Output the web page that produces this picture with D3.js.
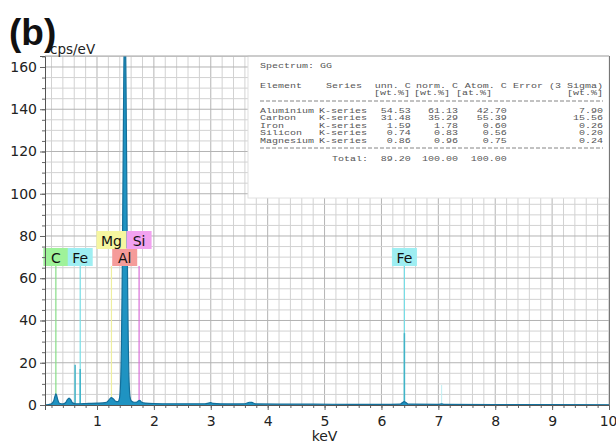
<!DOCTYPE html>
<html><head><meta charset="utf-8">
<script src="https://cdn.jsdelivr.net/npm/d3@7"></script>
<style>body{margin:0;background:#fff}svg{display:block}</style></head>
<body>
<svg id="c" width="616" height="443"></svg>
<script>
// ---------- data ----------
const xTickLabels = [1,2,3,4,5,6,7,8,9,10];
const yTickLabels = [0,20,40,60,80,100,120,140,160];
// EDS spectrum [keV, cps/eV]
const spectrum = [
 [0.086,0],[0.15,0.2],[0.20,0.6],[0.24,2.0],[0.26,4.0],[0.277,5.3],[0.29,4.6],[0.31,2.5],[0.34,0.8],
 [0.40,0.5],[0.45,1.2],[0.48,2.6],[0.51,3.3],[0.54,2.4],[0.57,1.0],[0.62,0.6],[0.70,0.6],[0.80,0.7],
 [0.90,0.8],[1.00,0.9],[1.10,1.0],[1.17,1.3],[1.21,2.4],[1.25,3.5],[1.29,2.8],[1.33,1.7],[1.37,1.6],
 [1.39,2.6],[1.40,4.0],[1.41,7.5],[1.42,15],[1.43,29],[1.44,52],[1.45,82],[1.46,118],[1.47,152],
 [1.48,178],[1.487,190],[1.495,184],[1.50,178],[1.51,152],[1.52,118],[1.53,82],[1.54,52],[1.55,29],
 [1.56,15],[1.57,7.5],[1.58,4.0],[1.60,2.0],[1.65,1.3],[1.70,1.4],[1.73,2.0],[1.75,2.2],[1.78,1.4],
 [1.85,0.9],[2.0,0.7],[2.3,0.6],[2.6,0.6],[2.9,0.6],[2.96,0.9],[3.0,1.1],[3.04,0.8],[3.3,0.5],
 [3.6,0.6],[3.68,1.3],[3.72,1.2],[3.8,0.5],[4.2,0.4],[4.8,0.4],[5.5,0.3],[6.0,0.3],[6.33,0.4],
 [6.37,1.2],[6.40,1.6],[6.43,1.2],[6.47,0.4],[7.0,0.3],[7.06,0.5],[7.1,0.3],[8.0,0.2],[9.0,0.2],[10,0.1]
];
// element line markers (label, energy keV, weight % for label priority)
const markerEls = ["Al","C","Fe","Si","Mg","Fe"];
const markerKeV = [1.487,0.277,0.705,1.740,1.254,6.404];
const markerWt  = [61.13,35.29,1.78,0.83,0.96,1.78];
// minor spectral lines (Fe Ll, Fe La, Fe Ka, Fe Kb) with heights
const lineKeV = [0.615,0.705,6.404,7.058];
const lineCps = [19,17,34,9.5];

// table
const tableTitle = "Spectrum: GG";
const tableHeaders = ["Element","Series","unn. C","norm. C","Atom. C","Error (3 Sigma)"];
const tableUnits = ["[wt.%]","[wt.%]","[at.%]","[wt.%]"];
const tElements = ["Aluminium","Carbon","Iron","Silicon","Magnesium"];
const tSeries = ["K-series","K-series","K-series","K-series","K-series"];
const unnC  = [54.53,31.48,1.59,0.74,0.86];
const normC = [61.13,35.29,1.78,0.83,0.96];
const atomC = [42.70,55.39,0.60,0.56,0.75];
const errC  = [7.90,15.56,0.26,0.20,0.24];
const totalLabel = "Total:";
const totals = [89.20,100.00,100.00];

// ---------- styles ----------
const elColor = {C:"#9ff29a", Fe:"#9eeef2", Mg:"#f6f6a0", Si:"#f2a2f0", Al:"#f59c9a"};
const elLine  = {C:"#88dd88", Fe:"#77dde6", Mg:"#eeeea0", Si:"#d870d8", Al:"#f08a88"};

const svg = d3.select("#c");
const L=45, R=609, T=56, B=405;
const x = d3.scaleLinear().domain([0.086,10]).range([L,R]);
const y = d3.scaleLinear().domain([0,165.2]).range([B,T]);

svg.append("rect").attr("width",616).attr("height",443).attr("fill","#fff");

// grid
const g = svg.append("g");
g.selectAll("line.vx").data(x.ticks(50)).join("line")
 .attr("x1",d=>x(d)).attr("x2",d=>x(d)).attr("y1",T).attr("y2",B)
 .attr("stroke",d=>Math.abs(d-Math.round(d))<1e-6?"#b4b4b4":"#d2d2d2").attr("stroke-width",1);
g.selectAll("line.hy").data(y.ticks(33)).join("line")
 .attr("y1",d=>y(d)).attr("y2",d=>y(d)).attr("x1",L).attr("x2",R)
 .attr("stroke",d=>d%20===0?"#b4b4b4":"#d2d2d2").attr("stroke-width",1);

// table box
svg.append("rect").attr("x",248).attr("y",T).attr("width",R-248).attr("height",142)
 .attr("fill","#fff").attr("stroke","#e0e0e0");

// clip
svg.append("clipPath").attr("id","pc").append("rect").attr("x",L).attr("y",T).attr("width",R-L).attr("height",B-T);
const plot = svg.append("g").attr("clip-path","url(#pc)");

// label placement (priority by wt%)
const order = d3.range(markerEls.length).sort((a,b)=>markerWt[b]-markerWt[a]);
const rowTop = [248,231];
const boxH = 18;
const placed = [];
const labels = [];
const measure = svg.append("text").attr("font-family","DejaVu Sans").attr("font-size",14);
order.forEach(i=>{
  measure.text(markerEls[i]);
  const w = Math.max(25, measure.node().getComputedTextLength()+9);
  const cx = x(markerKeV[i]);
  let row=0;
  while(placed.some(p=>p.row===row && !(cx+w/2<=p.x0+2 || cx-w/2>=p.x1-2))) row++;
  placed.push({row, x0:cx-w/2, x1:cx+w/2});
  labels.push({i, cx, w, row});
});
measure.remove();

// marker lines
plot.selectAll("line.mk").data(labels).join("line")
 .attr("x1",d=>d.cx).attr("x2",d=>d.cx).attr("y1",rowTop[0]+boxH).attr("y2",B)
 .attr("stroke",d=>elLine[markerEls[d.i]]).attr("stroke-width",1.2);
// spectral sub-lines
plot.selectAll("line.sl").data(lineKeV).join("line")
 .attr("x1",d=>x(d)).attr("x2",d=>x(d)).attr("y1",(d,i)=>y(lineCps[i])).attr("y2",B)
 .attr("stroke",(d,i)=>i===3?"#bfeef2":"#3fb4c8").attr("stroke-width",(d,i)=>i===3?1:1.5);

// spectrum
const area = d3.area().x(d=>x(d[0])).y0(y(0)).y1(d=>y(d[1])).curve(d3.curveMonotoneX);
const line = d3.line().x(d=>x(d[0])).y(d=>y(d[1])).curve(d3.curveMonotoneX);
plot.append("path").datum(spectrum).attr("d",area).attr("fill","#1f93c2");
plot.append("path").datum(spectrum).attr("d",line).attr("fill","none").attr("stroke","#146f9a").attr("stroke-width",1.2);

// label boxes
const lb = svg.append("g").selectAll("g").data(labels).join("g");
lb.append("rect").attr("x",d=>d.cx-d.w/2).attr("y",d=>rowTop[d.row]).attr("width",d=>d.w).attr("height",boxH)
 .attr("fill",d=>elColor[markerEls[d.i]]);
lb.append("text").attr("x",d=>d.cx).attr("y",d=>rowTop[d.row]+14.5).attr("text-anchor","middle")
 .attr("font-family","DejaVu Sans").attr("font-size",14).attr("fill","#111").text(d=>markerEls[d.i]);

// axes
const ax = svg.append("g").attr("transform",`translate(0,${B})`);
ax.call(d3.axisBottom(x).tickValues(x.ticks(50)).tickSize(3).tickFormat(""));
const ax2 = svg.append("g").attr("transform",`translate(0,${B})`)
 .call(d3.axisBottom(x).tickValues(xTickLabels).tickSize(5).tickPadding(6).tickFormat(d3.format("d")));
const ay = svg.append("g").attr("transform",`translate(${L},0)`);
ay.call(d3.axisLeft(y).tickValues(y.ticks(33)).tickSize(3).tickFormat(""));
const ay2 = svg.append("g").attr("transform",`translate(${L},0)`)
 .call(d3.axisLeft(y).tickValues(yTickLabels).tickSize(5).tickPadding(3).tickFormat(d3.format("d")));
[ax,ax2,ay,ay2].forEach(a=>{
  a.select(".domain").attr("stroke","#555");
  a.selectAll(".tick line").attr("stroke","#666");
  a.selectAll("text").attr("font-family","DejaVu Sans").attr("font-size",14).attr("fill","#222");
});
ax2.selectAll(".tick text").filter(d=>d===10).attr("text-anchor","end").attr("dx",8);
// borders
svg.append("line").attr("x1",L).attr("x2",R).attr("y1",T).attr("y2",T).attr("stroke","#aaa");
svg.append("line").attr("x1",R+0.5).attr("x2",R+0.5).attr("y1",T).attr("y2",B).attr("stroke","#777");

// axis titles
svg.append("text").attr("x",x(5)).attr("y",441).attr("text-anchor","middle")
 .attr("font-family","DejaVu Sans").attr("font-size",14).attr("fill","#222").text("keV");
svg.append("text").attr("x",50).attr("y",54)
 .attr("font-family","DejaVu Sans").attr("font-size",13.5).attr("fill","#222").text("cps/eV");
svg.append("text").attr("x",9).attr("y",45)
 .attr("font-family","Liberation Sans").attr("font-weight","bold").attr("font-size",37).attr("fill","#111").text("(b)");

// table text (stretched monospace)
const sx = 1.39;
const tg = svg.append("g").attr("transform",`scale(${sx},1)`)
 .attr("font-family","Liberation Mono").attr("font-size",7.2).attr("fill","#555");
const T1 = (s,xp,yp,anchor)=>tg.append("text").attr("x",xp/sx).attr("y",yp).attr("text-anchor",anchor||"start").text(s);
const colR = [410.7,458,506.7,603];
const unitL = [374,414,456];
T1(tableTitle,260,68);
T1(tableHeaders[0],260,88); T1(tableHeaders[1],326,88);
tableHeaders.slice(2).forEach((h,k)=>T1(h,colR[k],88,"end"));
tableUnits.slice(0,3).forEach((u,k)=>T1(u,unitL[k],95.5));
T1(tableUnits[3],colR[3],95.5,"end");
const rowY = [113,120.5,128,135.5,143];
tElements.forEach((e,r)=>{
  T1(e,260,rowY[r]); T1(tSeries[r],319,rowY[r]);
  [unnC[r],normC[r],atomC[r],errC[r]].forEach((v,k)=>T1(v.toFixed(2),colR[k],rowY[r],"end"));
});
T1(totalLabel,332,161);
totals.forEach((v,k)=>T1(v.toFixed(2),colR[k],161,"end"));
[101,148].forEach(yy=>svg.append("line").attr("x1",260).attr("x2",603).attr("y1",yy).attr("y2",yy)
 .attr("stroke","#777").attr("stroke-dasharray","4,2").attr("stroke-width",0.9));
</script>
</body></html>
